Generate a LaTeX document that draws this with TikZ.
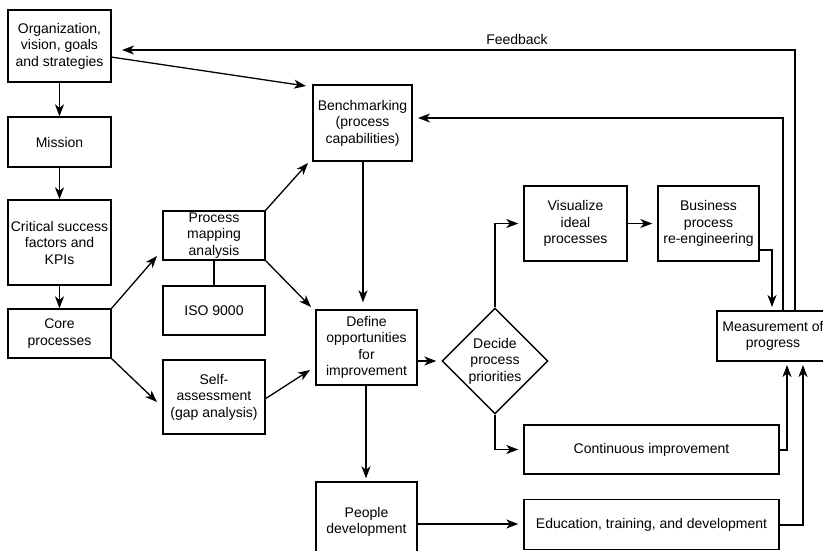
\documentclass[tikz,border=0pt]{standalone}
\usepackage{fontspec}
\setmainfont{Liberation Sans}
\usetikzlibrary{arrows.meta,shapes.geometric,calc}
\begin{document}
\begin{tikzpicture}[x=1pt,y=-1pt,
  box/.style={draw,line width=1.4pt,align=center,inner sep=1pt,
    font=\fontsize{14}{16.5}\selectfont},
  arr/.style={line width=1.3pt,-{Stealth[length=12pt,width=9pt,inset=3.5pt]}},
  ln/.style={line width=1.3pt}]
\useasboundingbox (0,0) rectangle (823,550);
\node[box,minimum width=103pt,minimum height=72pt] (org) at (59.5,46) {Organization,\\vision, goals\\and strategies};
\node[box,minimum width=103pt,minimum height=50pt] (mission) at (59.5,142) {Mission};
\node[box,minimum width=103pt,minimum height=85pt] (csf) at (59.5,242.5) {Critical success\\factors and\\KPIs};
\node[box,minimum width=103pt,minimum height=49pt] (core) at (59.5,333.5) {Core\\processes};
\node[box,minimum width=102pt,minimum height=49pt] (pm) at (214,235.5) {Process\\mapping\\analysis};
\node[box,minimum width=102pt,minimum height=49pt] (iso) at (214,310.5) {ISO 9000};
\node[box,minimum width=102pt,minimum height=74pt] (self) at (214,397) {Self-\\assessment\\(gap analysis)};
\node[box,minimum width=99pt,minimum height=76pt] (bench) at (362.5,123) {Benchmarking\\(process\\capabilities)};
\node[box,minimum width=101pt,minimum height=75pt] (define) at (366.5,347.5) {Define\\opportunities\\for\\improvement};
\node[draw,line width=1.4pt,diamond,minimum width=106pt,minimum height=106pt,inner sep=0pt,align=center,
  font=\fontsize{14}{16.5}\selectfont] (decide) at (495,361) {Decide\\process\\priorities};
\node[box,minimum width=103pt,minimum height=75pt] (vis) at (575.5,223.5) {Visualize\\ideal\\processes};
\node[box,minimum width=101pt,minimum height=75pt] (bpr) at (708.5,223.5) {Business\\process\\re-engineering};
\node[box,minimum width=112pt,minimum height=50pt] (meas) at (773,336) {Measurement of\\progress};
\node[box,minimum width=255pt,minimum height=49pt] (cont) at (651.5,449.5) {Continuous improvement};
\node[box,minimum width=255pt,minimum height=50pt] (edu) at (651.5,524.5) {Education, training, and development};
\node[box,minimum width=101pt,minimum height=80pt] (people) at (366.5,522) {People\\development};
\node[font=\fontsize{14}{16.5}\selectfont] (fb) at (517,39) {Feedback};
% left column
\draw[arr] (org) -- (mission);
\draw[arr] (mission) -- (csf);
\draw[arr] (csf) -- (core);
% org to benchmarking
\coordinate (orgout) at (111,57);
\coordinate (benchin) at (306,86);
\draw[arr] (orgout) -- (benchin);
% feedback loops
\coordinate (fbup) at (795,311);
\coordinate (fbend) at (122,50);
\draw[arr] (fbup) |- (fbend);
\coordinate (bfup) at (783,311);
\coordinate (bfend) at (418,118);
\draw[arr] (bfup) |- (bfend);
% core branches
\coordinate (c1) at (111,309);
\coordinate (c1t) at (157,256);
\draw[arr] (c1) -- (c1t);
\coordinate (c2) at (111,358);
\coordinate (c2t) at (157,402);
\draw[arr] (c2) -- (c2t);
% process mapping
\coordinate (p1) at (265,211);
\coordinate (p1t) at (308,163);
\draw[arr] (p1) -- (p1t);
\coordinate (p2) at (265,260);
\coordinate (p2t) at (311,307);
\draw[arr] (p2) -- (p2t);
\draw[ln] (pm) -- (iso);
\coordinate (s1) at (265,399);
\coordinate (s1t) at (310,370);
\draw[arr] (s1) -- (s1t);
% benchmarking to define
\draw[arr,shorten >=7pt] (bench.south -| 363,0) -- (define.north -| 363,0);
% define to decide
\draw[arr,shorten >=5pt] (define.east |- decide.west) -- (decide.west);
% decide branches
\draw[arr,shorten >=5pt] (decide.north) |- (vis.west);
\draw[arr,shorten >=5pt] (decide.south) |- (cont.west);
\draw[arr,shorten >=5pt] (vis.east) -- (bpr.west);
\coordinate (bpo) at (759,250);
\coordinate (bpt) at (772,307);
\draw[arr] (bpo) -| (bpt);
% into measurement from below
\coordinate (cmt) at (787,365);
\draw[arr] (cont.east |- 0,450) -| (cmt);
\coordinate (emt) at (803,365);
\draw[arr] (edu.east |- 0,525) -| (emt);
% people
\draw[arr,shorten >=3pt] (define.south -| 366,0) -- (people.north -| 366,0);
\draw[arr,shorten >=5pt] (people.east |- 0,524) -- (edu.west |- 0,524);
\end{tikzpicture}
\end{document}
